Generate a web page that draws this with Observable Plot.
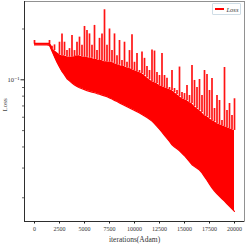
<!DOCTYPE html>
<html>
<head>
<meta charset="utf-8">
<script src="https://cdn.jsdelivr.net/npm/d3@7"></script>
<script src="https://cdn.jsdelivr.net/npm/@observablehq/plot@0.6"></script>
<style>
  html, body { margin: 0; padding: 0; background: #fff; }
  #wrap { position: relative; width: 246px; height: 246px; }
  #legend {
    position: absolute; left: 212px; top: 3px; width: 29px; height: 12px;
    border: 0.8px solid #cfdde6; border-radius: 1px; background: #fff;
    font-family: "Liberation Serif", serif; font-style: italic; font-size: 6.5px; color: #333;
    display: flex; align-items: center; box-sizing: border-box;
  }
  #legend .sw { width: 9px; height: 1.6px; background: red; margin-left: 2px; margin-right: 2.5px; }
</style>
</head>
<body>
<div id="wrap">
  <div id="chart"></div>
  <div id="legend"><div class="sw"></div><span>Loss</span></div>
</div>
<script>
// sample iterations
const iterations = [0,250,500,750,1000,1250,1500,1750,2000,2250,2500,2750,3000,3250,3500,3750,4000,4250,4500,4750,5000,5250,5500,5750,6000,6250,6500,6750,7000,7250,7500,7750,8000,8250,8500,8750,9000,9250,9500,9750,10000,10250,10500,10750,11000,11250,11500,11750,12000,12250,12500,12750,13000,13250,13500,13750,14000,14250,14500,14750,15000,15250,15500,15750,16000,16250,16500,16750,17000,17250,17500,17750,18000,18250,18500,18750,19000,19250,19500,19750,20000];
// lower envelope of the loss
const lossLow = [0.161,0.161,0.161,0.161,0.161,0.161,0.160,0.148,0.137,0.127,0.119,0.112,0.107,0.1015,0.0985,0.0956,0.0932,0.0914,0.0897,0.0885,0.0874,0.0863,0.0854,0.0846,0.0838,0.0829,0.0822,0.0812,0.0803,0.0793,0.0781,0.0769,0.0755,0.0743,0.0730,0.0717,0.0705,0.0693,0.0681,0.0669,0.0659,0.0647,0.0636,0.0623,0.0610,0.0597,0.0583,0.0569,0.0551,0.0530,0.0510,0.0489,0.0469,0.0450,0.0431,0.0412,0.0400,0.0390,0.0380,0.0367,0.0355,0.0341,0.0327,0.0314,0.0306,0.0299,0.0292,0.0281,0.0267,0.0254,0.0241,0.0229,0.0219,0.0211,0.0204,0.0197,0.0191,0.0184,0.0178,0.0172,0.0166];
// top of the dense band
const lossBand = [0.164,0.164,0.164,0.164,0.164,0.164,0.164,0.153,0.149,0.145,0.141,0.139,0.139,0.137,0.136,0.136,0.137,0.139,0.139,0.137,0.136,0.136,0.134,0.134,0.132,0.132,0.130,0.130,0.128,0.128,0.127,0.127,0.125,0.123,0.122,0.120,0.120,0.118,0.117,0.115,0.1135,0.112,0.1105,0.109,0.106,0.103,0.100,0.0977,0.0964,0.0951,0.0925,0.0913,0.0900,0.0888,0.0876,0.0864,0.0841,0.0818,0.0796,0.0775,0.0764,0.0754,0.0734,0.0724,0.0695,0.0676,0.0658,0.0640,0.0615,0.0606,0.0590,0.0574,0.0566,0.0551,0.0543,0.0536,0.0529,0.0522,0.0514,0.0508,0.0501];
// spike peaks
const lossPeak = [0.171,0.164,0.164,0.164,0.164,0.164,0.171,0.158,0.161,0.145,0.167,0.187,0.167,0.149,0.153,0.183,0.149,0.167,0.179,0.160,0.207,0.196,0.187,0.160,0.210,0.149,0.176,0.187,0.260,0.160,0.200,0.149,0.187,0.139,0.171,0.130,0.167,0.127,0.149,0.185,0.127,0.143,0.1135,0.146,0.134,0.120,0.1135,0.150,0.148,0.1105,0.106,0.143,0.106,0.102,0.0900,0.1135,0.0888,0.0864,0.119,0.0841,0.0829,0.0925,0.0807,0.1215,0.0991,0.0900,0.1004,0.0807,0.1135,0.1075,0.0864,0.1018,0.0676,0.0807,0.0754,0.0574,0.1183,0.0658,0.0724,0.0615,0.0772];

const xTicks = [0,2500,5000,7500,10000,12500,15000,17500,20000];
const yMajor = [0.1];
const yMinor = [0.02,0.03,0.04,0.05,0.06,0.07,0.08,0.09,0.2];

const rows = iterations.map((it, i) => ({it, low: lossLow[i], band: lossBand[i], peak: lossPeak[i]}));
const serif = "'Liberation Serif', 'DejaVu Serif', serif";

const chart = Plot.plot({
  width: 246, height: 246,
  marginLeft: 24, marginRight: 2, marginTop: 1, marginBottom: 25,
  style: {fontFamily: serif, fontSize: "6px", color: "#333", background: "#fff"},
  x: {domain: [-1000, 21000], label: null},
  y: {type: "log", domain: [0.01447, 0.291], label: null},
  marks: [
    Plot.areaY(rows, {x: "it", y1: "low", y2: "band", fill: "red"}),
    Plot.line(rows, {x: "it", y: "low", stroke: "red", strokeWidth: 1.2}),
    Plot.ruleX(rows, {x: "it", y1: "band", y2: "peak", stroke: "red", strokeWidth: 1.7, strokeOpacity: 0.92}),
    Plot.line(rows.slice(0, 8), {x: "it", y: "band", stroke: "red", strokeWidth: 1.6}),
    Plot.frame({stroke: "#777", strokeWidth: 0.8}),
    Plot.axisX(xTicks, {tickSize: 2.5, tickPadding: 3, fontSize: 6, tickFormat: d => String(d), label: null, stroke: "#222"}),
    Plot.axisY(yMajor, {tickSize: 3.5, tickPadding: 1.5, fontSize: 6.5, tickFormat: () => "10\u207B\u00B9", label: null, stroke: "#222"}),
    Plot.axisY(yMinor, {tickSize: 2, tickFormat: () => "", label: null, stroke: "#222", strokeWidth: 0.7}),
    Plot.ruleX([-1000], {stroke: "#222", strokeWidth: 0.9}),
    Plot.ruleY([0.01447], {stroke: "#222", strokeWidth: 0.9}),
    Plot.text(["iterations(Adam)"], {frameAnchor: "bottom", dy: 20, fontSize: 7.5, fill: "#333"}),
    Plot.text(["Loss"], {frameAnchor: "left", rotate: -90, dx: -20, fontSize: 7, fill: "#444"})
  ]
});
document.getElementById("chart").appendChild(chart);
</script>
</body>
</html>
